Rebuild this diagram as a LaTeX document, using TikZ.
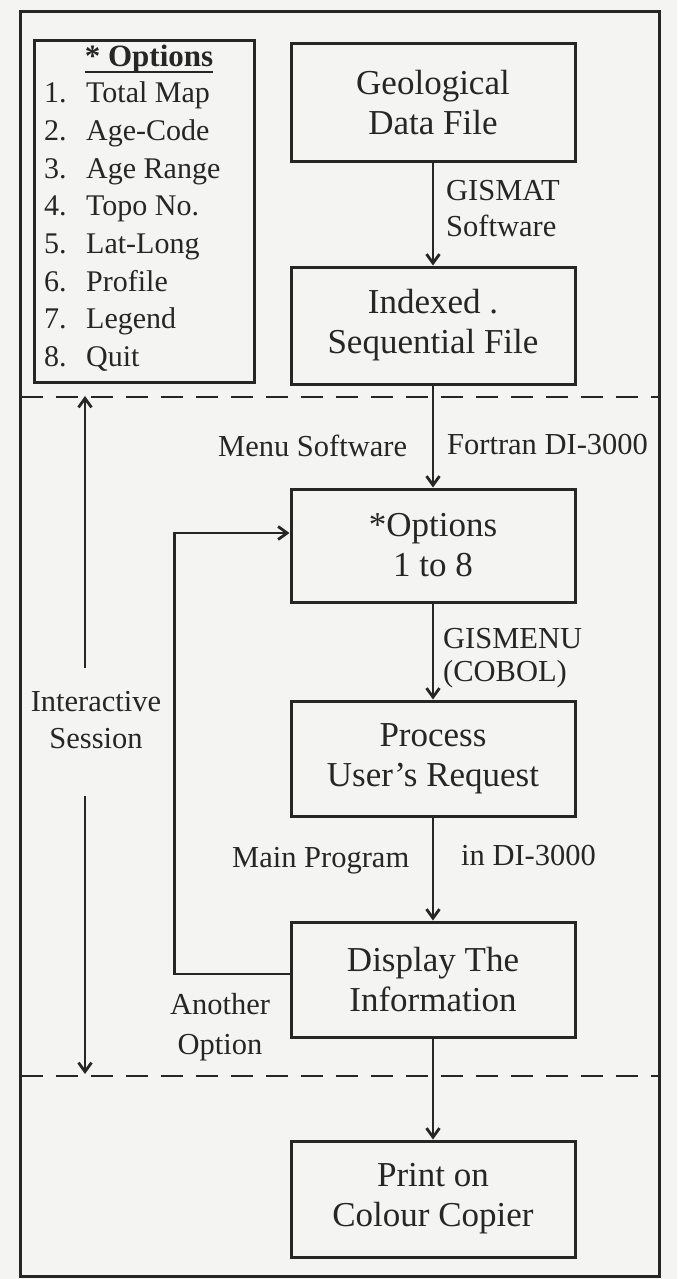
\documentclass[tikz,border=0pt]{standalone}
\usepackage{fontspec}
\setmainfont{Liberation Serif}
\usetikzlibrary{arrows.meta}
\definecolor{ink}{HTML}{262626}
\definecolor{paper}{HTML}{F4F4F2}
\newcommand\boxfont{\fontsize{35}{40}\selectfont}
\newcommand\lblfont{\fontsize{30.5}{37}\selectfont}
\newcommand\itemfont{\fontsize{30}{37}\selectfont}
\newcommand\titlefont{\fontsize{31}{37}\selectfont\bfseries}
\begin{document}
\begin{tikzpicture}[x=1pt,y=-1pt,
  stagebox/.style={draw=ink, line width=3pt, minimum width=284pt,
    minimum height=116pt, align=center, font=\boxfont, text=ink, inner sep=0pt},
  lbl/.style={anchor=base west, font=\lblfont, text=ink, inner sep=0pt},
  itm/.style={anchor=base west, font=\itemfont, text=ink, inner sep=0pt},
  arr/.style={draw=ink, line width=2.8pt,
    -{Straight Barb[length=9pt,width=13pt,line width=2.8pt]}},
  frameline/.style={draw=ink, line width=3pt},
  sepline/.style={draw=ink, line width=2.6pt, dash pattern=on 22pt off 13pt}]

% paper and page size
\fill[paper] (0,0) rectangle (677,1279);
\useasboundingbox (0,0) rectangle (677,1279);

% outer frame and the two stage separators
\draw[frameline] (20.5,12) rectangle (659.5,1276);
\draw[sepline] (20.5,397) -- (659.5,397);
\draw[sepline] (20.5,1076) -- (659.5,1076);

% menu of options
\node[draw=ink, line width=3pt, minimum width=220pt, minimum height=341pt,
  inner sep=0pt] (menu) at (144,211.5) {};
\node[font=\titlefont, text=ink, anchor=base, inner sep=0pt] (mtitle) at (149,67) {* Options};
\draw[ink, line width=2pt] ([yshift=-5pt]mtitle.base west) -- ([yshift=-5pt]mtitle.base east);
\foreach \n/\t [count=\i from 0] in {1/Total Map, 2/Age-Code, 3/Age Range,
    4/Topo No., 5/Lat-Long, 6/Profile, 7/Legend, 8/Quit} {
  \node[itm] (num\n) at (44,{103+37.6*\i}) {\n.};
  \node[itm] (itm\n) at (86,{103+37.6*\i}) {\t};
}

% processing stages
\node[stagebox, minimum height=117pt] (geo) at (433,102.5) {Geological\\Data File};
\node[stagebox, minimum height=117pt] (idx) at (433,325.5) {Indexed .\\Sequential File};
\node[stagebox, minimum height=113pt] (opt) at (433,545.5) {*Options\\1 to 8};
\node[stagebox, minimum height=115pt] (proc) at (433,758.5) {Process\\User's Request};
\node[stagebox, minimum height=115pt] (disp) at (433,979.5) {Display The\\Information};
\node[stagebox, minimum height=116pt] (print) at (433,1199) {Print on\\Colour Copier};

% connector labels
\node[lbl] (gisA) at (446,200) {GISMAT};
\node[lbl] (gisB) at (446,236) {Software};
\node[lbl] (menuSw) at (218,456) {Menu Software};
\node[lbl] (fortran) at (447,454) {Fortran DI-3000};
\node[lbl] (gmA) at (443,648) {GISMENU};
\node[lbl] (gmB) at (443,681) {(COBOL)};
\node[lbl] (mainp) at (232,867) {Main Program};
\node[lbl] (indi) at (461,865) {in DI-3000};
\node[lbl, anchor=base] (interA) at (96,711) {Interactive};
\node[lbl, anchor=base] (interB) at (96,748) {Session};
\node[lbl, anchor=base] (anoA) at (220,1014) {Another};
\node[lbl, anchor=base] (anoB) at (220,1054) {Option};

% main flow
\draw[arr] (geo.south) -- (idx.north);
\draw[arr] (idx.south) -- (opt.north);
\draw[arr] (opt.south) -- (proc.north);
\draw[arr] (proc.south) -- (disp.north);
\draw[arr] (disp.south) -- (print.north);

% loop back for another option
\draw[arr] ([yshift=5.5pt]disp.west) -- ++(-115,0) |- ([yshift=12.5pt]opt.west);

% extent of the interactive session
\coordinate (upStart) at (85,668);
\coordinate (downStart) at (85,796);
\coordinate (dashTop) at (85,396);
\coordinate (dashBot) at (85,1074);
\draw[arr] (upStart) -- (dashTop);
\draw[arr] (downStart) -- (dashBot);
\end{tikzpicture}
\end{document}
